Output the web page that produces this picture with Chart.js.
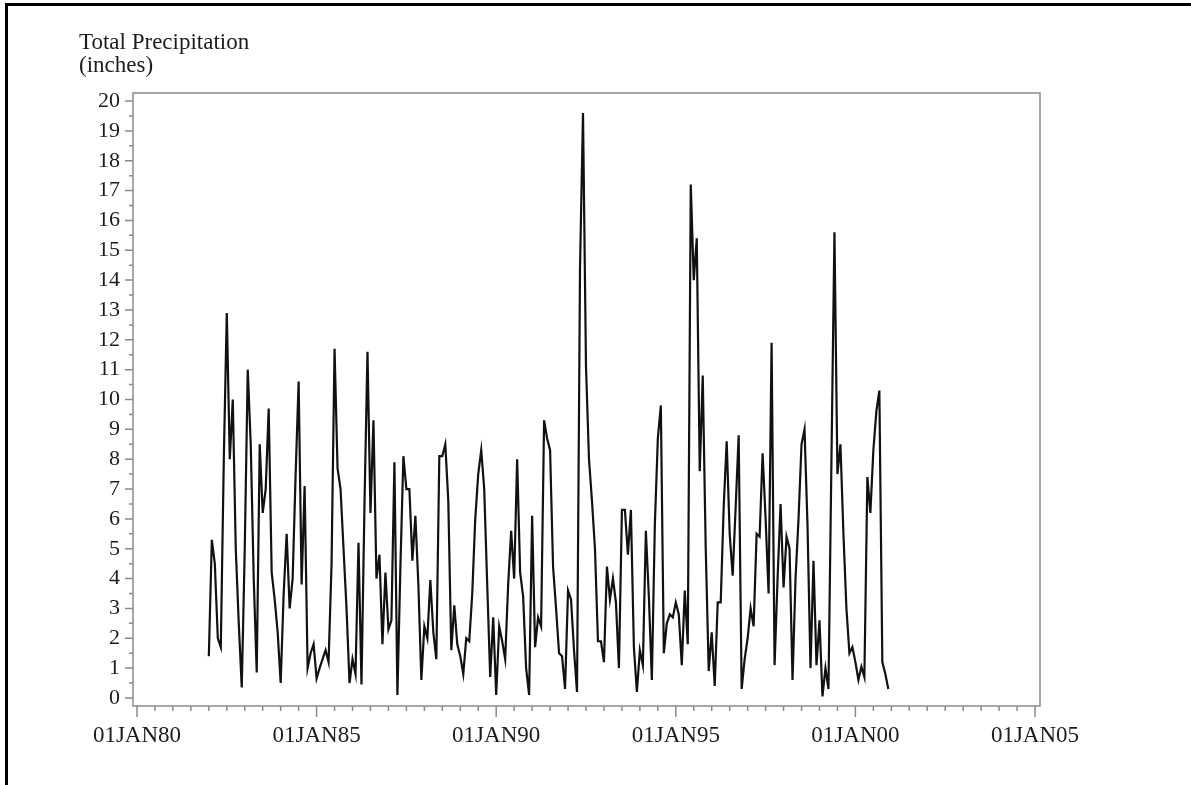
<html>
<head>
    <title>Total Precipitation</title>
    <style>
        body { margin: 0; background: #fff; }
        #page { position: relative; width: 1191px; height: 785px; overflow: hidden; }
        #frame { position: absolute; left: 5px; top: 3px; right: -10px; bottom: -10px;
                 border-top: 3px solid #000; border-left: 3px solid #000; }
        #chart { position: absolute; left: 0; top: 0; }
    </style>
</head>
<body>
<div id="page">
    <div id="frame"></div>
    <canvas id="chart" width="1191" height="785"></canvas>
</div>

<script src="https://cdn.jsdelivr.net/npm/chart.js"></script>

<script>
    // monthly totals, Jan 1982 .. Dec 2000 (one row per year)
    const startYear = 1982
    const precip = [
        1.4, 5.3, 4.5, 2.0, 1.7, 8.0, 12.9, 8.0, 10.0, 5.0, 2.5, 0.35,   // 1982
        5.0, 11.0, 8.5, 4.0, 0.85, 8.5, 6.2, 7.0, 9.7, 4.2, 3.3, 2.2,    // 1983
        0.5, 3.5, 5.5, 3.0, 4.0, 7.5, 10.6, 3.8, 7.1, 1.0, 1.5, 1.8,     // 1984
        0.65, 1.0, 1.3, 1.6, 1.2, 4.5, 11.7, 7.7, 7.0, 5.0, 3.0, 0.5,    // 1985
        1.3, 0.8, 5.2, 0.45, 6.5, 11.6, 6.2, 9.3, 4.0, 4.8, 1.8, 4.2,    // 1986
        2.3, 2.6, 7.9, 0.1, 4.4, 8.1, 7.0, 7.0, 4.6, 6.1, 3.8, 0.6,      // 1987
        2.4, 2.0, 3.95, 2.2, 1.3, 8.1, 8.1, 8.5, 6.6, 1.6, 3.1, 1.8,     // 1988
        1.4, 0.8, 2.0, 1.9, 3.5, 6.0, 7.5, 8.3, 7.0, 3.8, 0.7, 2.7,      // 1989
        0.1, 2.4, 1.9, 1.3, 3.8, 5.6, 4.0, 8.0, 4.2, 3.4, 1.0, 0.1,      // 1990
        6.1, 1.7, 2.7, 2.4, 9.3, 8.7, 8.3, 4.4, 3.0, 1.5, 1.4, 0.3,      // 1991
        3.6, 3.3, 1.6, 0.2, 14.4, 19.6, 11.1, 8.0, 6.6, 5.0, 1.9, 1.9,   // 1992
        1.2, 4.4, 3.3, 4.0, 3.2, 1.0, 6.3, 6.3, 4.8, 6.3, 1.7, 0.2,      // 1993
        1.6, 1.1, 5.6, 3.4, 0.6, 5.8, 8.7, 9.8, 1.5, 2.5, 2.8, 2.7,      // 1994
        3.2, 2.8, 1.1, 3.6, 1.8, 17.2, 14.0, 15.4, 7.6, 10.8, 5.0, 0.9,  // 1995
        2.2, 0.4, 3.2, 3.2, 6.4, 8.6, 5.5, 4.1, 6.4, 8.8, 0.3, 1.3,      // 1996
        2.0, 3.0, 2.4, 5.5, 5.4, 8.2, 6.0, 3.5, 11.9, 1.1, 4.0, 6.5,     // 1997
        3.7, 5.4, 5.0, 0.6, 4.0, 6.0, 8.5, 9.0, 5.8, 1.0, 4.6, 1.1,      // 1998
        2.6, 0.05, 1.0, 0.3, 8.0, 15.6, 7.5, 8.5, 5.5, 3.0, 1.5, 1.7,    // 1999
        1.2, 0.6, 1.05, 0.7, 7.4, 6.2, 8.3, 9.6, 10.3, 1.2, 0.8, 0.3     // 2000
    ]

    const xTickYears = [1980, 1985, 1990, 1995, 2000, 2005]
    const xTickLabels = ['01JAN80', '01JAN85', '01JAN90', '01JAN95', '01JAN00', '01JAN05']
    const yTickValues = [0, 1, 2, 3, 4, 5, 6, 7, 8, 9, 10, 11, 12, 13, 14, 15, 16, 17, 18, 19, 20]
    const titleLines = ['Total Precipitation', '(inches)']

    const fontFamily = '"Liberation Serif", "Times New Roman", serif'
    const textColor = '#1c1c1c'
    const axisColor = '#8a8a8a'

    let points = []
    for (let i = 0; i < precip.length; i++) {
        points.push({x: startYear + i / 12, y: precip[i]})
    }

    // box, tick marks (major + minor) and the axis title
    const axisFrame = {
        id: 'axisFrame',
        afterDraw(chart) {
            const ctx = chart.ctx
            const a = chart.chartArea
            const x = chart.scales.x
            const y = chart.scales.y
            ctx.save()
            ctx.strokeStyle = axisColor
            ctx.lineWidth = 1.5
            ctx.strokeRect(a.left, a.top, a.right - a.left, a.bottom - a.top)
            ctx.beginPath()
            for (let v = yTickValues[0]; v <= yTickValues[yTickValues.length - 1]; v += 0.5) {
                const py = y.getPixelForValue(v)
                const len = v % 1 === 0 ? 8 : 4
                ctx.moveTo(a.left - len, py)
                ctx.lineTo(a.left, py)
            }
            for (let yr = xTickYears[0]; yr <= xTickYears[xTickYears.length - 1]; yr += 0.5) {
                const px = x.getPixelForValue(yr)
                const len = yr % 5 === 0 ? 11 : 5
                ctx.moveTo(px, a.bottom)
                ctx.lineTo(px, a.bottom + len)
            }
            ctx.stroke()
            ctx.fillStyle = textColor
            ctx.font = '23px ' + fontFamily
            ctx.textBaseline = 'alphabetic'
            ctx.fillText(titleLines[0], 79, 49)
            ctx.fillText(titleLines[1], 79, 72)
            ctx.restore()
        }
    }

    new Chart(document.getElementById('chart'), {
        type: 'line',
        data: {
            datasets: [{
                data: points,
                borderColor: '#111',
                borderWidth: 2.2,
                pointRadius: 0,
                tension: 0
            }]
        },
        options: {
            responsive: false,
            animation: false,
            devicePixelRatio: 1,
            layout: {padding: {left: 0, top: 93, right: 151, bottom: 0}},
            plugins: {legend: {display: false}, tooltip: {enabled: false}},
            scales: {
                x: {
                    type: 'linear',
                    min: 1979.889,
                    max: 2005.139,
                    afterFit: (s) => { s.height = 79 },
                    afterBuildTicks: (s) => { s.ticks = xTickYears.map(v => ({value: v})) },
                    grid: {display: false, drawTicks: false, tickLength: 0},
                    border: {display: false},
                    ticks: {
                        padding: 16,
                        maxRotation: 0,
                        autoSkip: false,
                        color: textColor,
                        font: {family: fontFamily, size: 23},
                        callback: (v, i) => xTickLabels[i]
                    }
                },
                y: {
                    min: -0.27,
                    max: 20.27,
                    afterFit: (s) => { s.width = 133 },
                    afterBuildTicks: (s) => { s.ticks = yTickValues.map(v => ({value: v})) },
                    grid: {display: false, drawTicks: false, tickLength: 0},
                    border: {display: false},
                    ticks: {
                        padding: 13,
                        autoSkip: false,
                        color: textColor,
                        font: {family: fontFamily, size: 22},
                        callback: (v) => String(v)
                    }
                }
            }
        },
        plugins: [axisFrame]
    });
</script>
</body>
</html>
